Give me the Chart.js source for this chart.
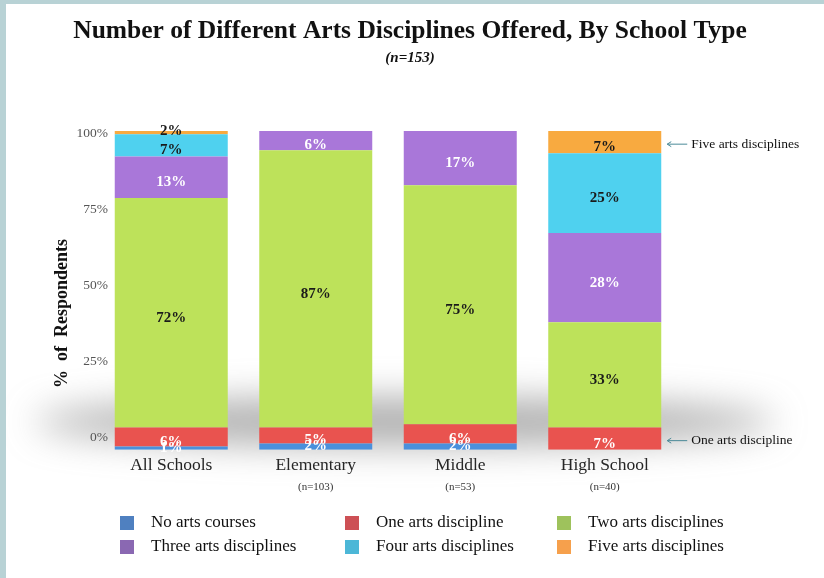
<!DOCTYPE html>
<html>
<head>
<meta charset="utf-8">
<script src="https://cdn.jsdelivr.net/npm/chart.js@4"></script>
<style>
  html, body { margin: 0; padding: 0; background: #ffffff; }
  body { width: 824px; height: 578px; overflow: hidden; position: relative; }
  .frame-left { position: absolute; left: 0; top: 0; width: 6px; height: 578px; background: #b8d2d5; }
  .frame-top { position: absolute; left: 0; top: 0; width: 824px; height: 4px; background: #b8d2d5; }
  #wrap { position: absolute; left: 0; top: 0; width: 824px; height: 578px; }
</style>
</head>
<body>
<div id="wrap"><canvas id="chart"></canvas></div>
<div class="frame-left"></div>
<div class="frame-top"></div>
<script>
const chartTitle = 'Number of Different Arts Disciplines Offered, By School Type';
const chartSubtitle = '(n=153)';
const yTitle = '%  of  Respondents';
const categories = ['All Schools', 'Elementary', 'Middle', 'High School'];
const sampleSizes = ['', '(n=103)', '(n=53)', '(n=40)'];
const seriesNames = ['No arts courses', 'One arts discipline', 'Two arts disciplines',
                     'Three arts disciplines', 'Four arts disciplines', 'Five arts disciplines'];
const noArts = [1, 2, 2, 0];
const oneArt = [6, 5, 6, 7];
const twoArts = [72, 87, 75, 33];
const threeArts = [13, 6, 17, 28];
const fourArts = [7, 0, 0, 25];
const fiveArts = [2, 0, 0, 7];
const yTicks = [0, 25, 50, 75, 100];

const barColors = ['#4a90dc', '#e9534f', '#bde25a', '#a977d9', '#4fd1ef', '#f8aa40'];
const legendColors = ['#4f80c0', '#cd5055', '#9ec25c', '#8a68b2', '#4cb7d7', '#f6a04c'];
const labelColors = ['#ffffff', '#ffffff', '#1a1a1a', '#ffffff', '#1a1a1a', '#1a1a1a'];

const serif = "'Liberation Serif', 'Times New Roman', serif";
const allSeries = [noArts, oneArt, twoArts, threeArts, fourArts, fiveArts];

document.addEventListener('DOMContentLoaded', () => {
    const ctx = document.getElementById('chart').getContext('2d');

    // soft grey shadow behind the bar bases
    const shadowPlugin = {
        id: 'shadow',
        beforeDatasetsDraw(chart) {
            const c = chart.ctx;
            const y0 = chart.scales.y.getPixelForValue(0);
            c.save();
            c.filter = 'blur(18px)';
            c.fillStyle = 'rgba(110,110,110,0.55)';
            c.beginPath();
            c.ellipse(405, y0 - 28, 370, 24, 0, 0, Math.PI * 2);
            c.fill();
            c.restore();
        }
    };

    // y tick labels and title drawn by hand (they lean a bit, like the original's perspective)
    const yLabelPlugin = {
        id: 'yLabels',
        afterDraw(chart) {
            const c = chart.ctx;
            const y = chart.scales.y;
            c.save();
            c.textAlign = 'right';
            c.textBaseline = 'middle';
            c.fillStyle = '#555';
            c.font = '13.5px ' + serif;
            yTicks.forEach(v => {
                c.fillText(v + '%', 108, y.getPixelForValue(v) + 2 - (100 - v) * 0.14);
            });
            c.translate(62, (y.top + y.bottom) / 2 + 23);
            c.rotate(-Math.PI / 2);
            c.textAlign = 'center';
            c.fillStyle = '#111';
            c.font = 'bold 18px ' + serif;
            c.fillText(yTitle, 0, 0);
            c.restore();
        }
    };

    const headerPlugin = {
        id: 'header',
        afterDraw(chart) {
            const c = chart.ctx;
            c.save();
            c.textAlign = 'center';
            c.textBaseline = 'middle';
            c.fillStyle = '#111';
            c.font = 'bold 25.5px ' + serif;
            c.fillText(chartTitle, 410, 31);
            c.font = 'italic bold 15px ' + serif;
            c.fillText(chartSubtitle, 410, 58);
            c.restore();
        }
    };

    const labelPlugin = {
        id: 'segLabels',
        afterDatasetsDraw(chart) {
            const c = chart.ctx;
            c.save();
            c.textAlign = 'center';
            c.textBaseline = 'middle';
            c.font = 'bold 15px ' + serif;
            chart.data.datasets.forEach((ds, i) => {
                const meta = chart.getDatasetMeta(i);
                meta.data.forEach((bar, j) => {
                    const v = ds.data[j];
                    if (!v) return;
                    const y = (bar.y + bar.base) / 2 + (v > 4 ? 5 : 0);
                    c.fillStyle = labelColors[i];
                    c.fillText(v + '%', bar.x, y);
                });
            });
            // side notes on the High School bar
            const hs = categories.length - 1;
            const notes = [[5, 'Five arts disciplines'], [1, 'One arts discipline']];
            c.textAlign = 'left';
            c.font = '13.5px ' + serif;
            notes.forEach(([i, text]) => {
                const bar = chart.getDatasetMeta(i).data[hs];
                const y = (bar.y + bar.base) / 2 + 2;
                const x0 = bar.x + bar.width / 2 + 6;
                c.strokeStyle = '#4b8a98';
                c.lineWidth = 1;
                c.beginPath();
                c.moveTo(x0, y);
                c.lineTo(x0 + 20, y);
                c.moveTo(x0 + 4, y - 2.5);
                c.lineTo(x0, y);
                c.lineTo(x0 + 4, y + 2.5);
                c.stroke();
                c.fillStyle = '#111';
                c.fillText(text, x0 + 24, y);
            });
            c.restore();
        }
    };

    const legendPlugin = {
        id: 'gridLegend',
        afterDraw(chart) {
            const c = chart.ctx;
            const cols = [120, 345, 557];
            const rows = [523, 547];
            c.save();
            c.font = '17px ' + serif;
            c.textBaseline = 'middle';
            c.textAlign = 'left';
            seriesNames.forEach((name, i) => {
                const x = cols[i % 3];
                const y = rows[Math.floor(i / 3)];
                c.fillStyle = legendColors[i];
                c.fillRect(x, y - 7, 14, 14);
                c.fillStyle = '#111';
                c.fillText(name, x + 31, y);
            });
            c.restore();
        }
    };

    const data = {
        labels: categories,
        datasets: seriesNames.map((name, i) => ({
            label: name,
            data: allSeries[i],
            backgroundColor: barColors[i],
            borderWidth: 0,
            barPercentage: 0.782,
            categoryPercentage: 1.0
        }))
    };

    const config = {
        type: 'bar',
        data: data,
        options: {
            responsive: true,
            maintainAspectRatio: false,
            animation: false,
            layout: { padding: { left: 50, right: 147, top: 131, bottom: 84 } },
            scales: {
                x: {
                    stacked: true,
                    grid: { display: false, drawTicks: false },
                    border: { display: false },
                    ticks: { color: '#222', font: { family: serif, size: 17.5 }, padding: 5 }
                },
                x2: {
                    type: 'category',
                    labels: sampleSizes,
                    position: 'bottom',
                    grid: { display: false, drawTicks: false },
                    border: { display: false },
                    ticks: { color: '#333', font: { family: serif, size: 11 }, padding: 0 }
                },
                y: {
                    stacked: true,
                    min: 0,
                    max: 100,
                    afterBuildTicks: (axis) => { axis.ticks = yTicks.map(v => ({ value: v })); },
                    afterFit: (axis) => { axis.width = 49; },
                    grid: { display: false, drawTicks: false },
                    border: { display: false },
                    ticks: { display: false },
                    title: { display: false }
                }
            },
            plugins: {
                legend: { display: false },
                tooltip: { enabled: false },
                title: { display: false }
            }
        },
        plugins: [shadowPlugin, labelPlugin, yLabelPlugin, legendPlugin, headerPlugin]
    };

    const chart = new Chart(ctx, config);
});
</script>
</body>
</html>
